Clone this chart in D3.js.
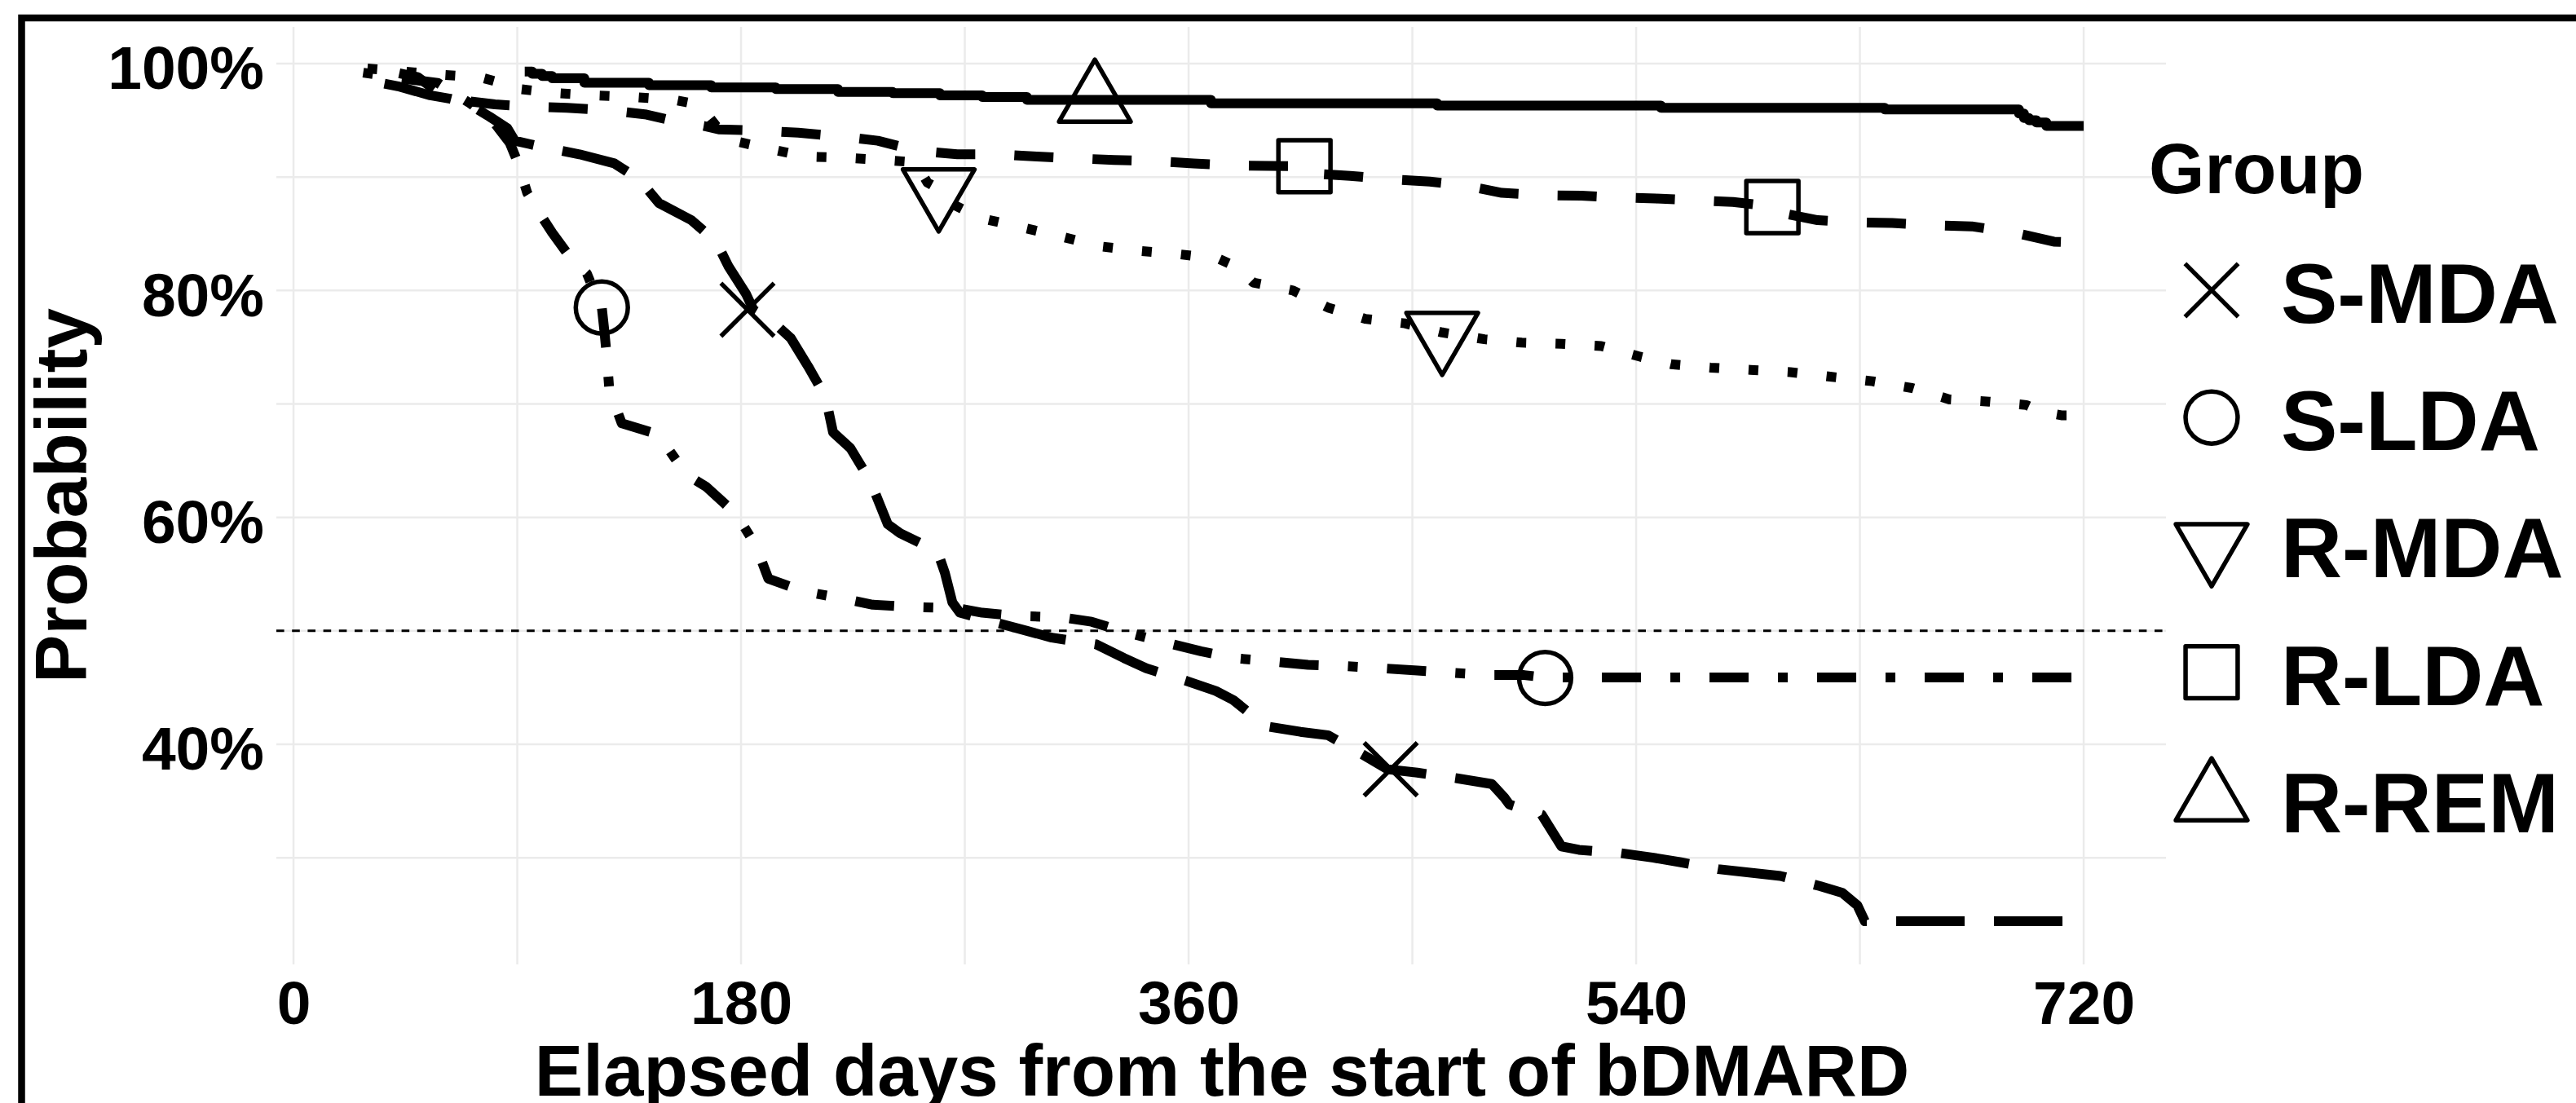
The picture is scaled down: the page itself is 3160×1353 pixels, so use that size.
<!DOCTYPE html>
<html>
<head>
<meta charset="utf-8">
<script src="https://cdn.jsdelivr.net/npm/d3@7"></script>
<style>
  body { margin: 0; background: #fff; }
  svg { display: block; }
  text { font-family: "Liberation Sans", Arial, Helvetica, sans-serif; font-weight: bold; fill: #000; }
</style>
</head>
<body>
<div id="chart"></div>
<script>
// ---- data (days from start, % still on drug) ----
const groups = ["S-MDA", "S-LDA", "R-MDA", "R-LDA", "R-REM"];

const smdaDays = [28, 42, 55, 63, 70, 79, 86, 89, 95, 101, 115, 129, 139, 147, 160, 170, 175, 182, 185, 192, 200, 207, 214, 217, 224, 232, 239, 244, 259, 262, 265, 268, 283, 295, 305, 323, 334, 343, 359, 371, 378, 391, 405, 416, 430, 440, 452, 468, 482, 487, 489, 502, 506, 510, 517, 534, 547, 558, 573, 598, 614, 623, 629, 632, 720];
const smdaProb = [98.6, 98.0, 97.2, 96.9, 96.5, 95.3, 94.3, 93.2, 92.9, 92.6, 92.0, 91.2, 89.8, 87.7, 86.2, 84.3, 82.1, 79.7, 78.3, 77.4, 75.8, 73.3, 70.6, 67.5, 66.1, 63.2, 59.4, 58.6, 57.0, 55.1, 52.5, 51.6, 50.7, 50.0, 49.4, 48.8, 47.6, 46.7, 45.6, 44.7, 43.9, 41.6, 41.1, 40.8, 39.1, 37.8, 37.5, 37.0, 36.5, 35.3, 34.7, 33.8, 32.4, 31.0, 30.7, 30.4, 30.0, 29.6, 29.0, 28.4, 27.5, 26.9, 25.8, 24.4, 24.4];

const sldaDays = [28, 43, 58, 65, 71, 80, 87, 90, 94, 99, 104, 111, 118, 121, 124, 125, 126, 127, 130, 132, 144, 147, 156, 160, 166, 178, 186, 191, 205, 222, 233, 249, 267, 277, 292, 309, 321, 336, 352, 365, 378, 394, 408, 422, 438, 452, 466, 481, 495, 503, 720];
const sldaProb = [99.2, 98.7, 98.3, 97.3, 96.5, 95.0, 93.0, 91.4, 88.6, 86.8, 85.1, 83.0, 81.5, 79.9, 78.5, 76.5, 74.2, 71.3, 69.5, 68.3, 67.5, 67.2, 64.4, 63.5, 62.7, 60.3, 57.5, 54.6, 53.5, 52.8, 52.3, 52.1, 52.0, 51.6, 51.3, 51.2, 50.8, 49.8, 48.9, 48.2, 47.6, 47.3, 47.0, 46.9, 46.7, 46.5, 46.3, 46.1, 46.1, 45.9, 45.9];

const rmdaDays = [28, 44, 60, 75, 85, 89, 105, 120, 137, 153, 160, 165, 170, 175, 191, 206, 221, 237, 250, 255, 260, 266, 276, 292, 308, 324, 340, 356, 372, 380, 386, 402, 416, 431, 447, 462, 479, 494, 510, 526, 541, 554, 570, 586, 602, 618, 635, 651, 666, 682, 697, 703, 711, 720];
const rmdaProb = [99.6, 99.3, 99.0, 98.8, 98.2, 97.8, 97.4, 97.2, 97.05, 96.8, 96.5, 95.9, 94.5, 93.3, 92.5, 91.8, 91.7, 91.5, 91.3, 89.5, 88.9, 87.5, 86.4, 85.6, 84.8, 83.9, 83.5, 83.2, 82.8, 82.0, 80.7, 80.0, 78.5, 77.5, 77.1, 76.3, 75.7, 75.4, 75.3, 75.1, 74.2, 73.5, 73.2, 73.0, 72.8, 72.4, 72.0, 71.4, 70.4, 70.2, 69.9, 69.3, 69.0, 69.0];

const rldaDays = [35, 50, 58, 66, 81, 95, 110, 126, 142, 154, 165, 171, 187, 203, 219, 235, 251, 267, 283, 299, 314, 330, 347, 362, 381, 407, 410, 425, 441, 457, 470, 486, 503, 518, 532, 548, 564, 579, 595, 597, 613, 628, 643, 660, 675, 692, 708, 720];
const rldaProb = [99.5, 98.8, 97.5, 96.8, 96.4, 96.2, 96.1, 95.9, 95.5, 94.9, 94.5, 94.2, 94.1, 93.9, 93.6, 93.2, 92.3, 92.0, 92.0, 91.8, 91.65, 91.5, 91.4, 91.2, 91.0, 90.95, 90.3, 90.1, 89.8, 89.6, 89.3, 88.6, 88.4, 88.35, 88.2, 88.1, 87.95, 87.8, 87.4, 86.9, 86.2, 86.0, 85.95, 85.75, 85.65, 85.1, 84.3, 84.2];

const rremDays = [93, 96, 100, 104, 117, 143, 168, 194, 219, 241, 260, 277, 295, 369, 460, 550, 640, 694, 696, 698, 701, 705, 720];
const rremProb = [99.3, 99.1, 98.9, 98.7, 98.3, 98.1, 97.9, 97.75, 97.5, 97.4, 97.2, 97.05, 96.8, 96.5, 96.3, 96.1, 95.95, 95.6, 95.2, 95.0, 94.8, 94.5, 94.5];

// marker points drawn on each curve
const smdaMarkDays = [182.6, 441.3], smdaMarkProb = [78.3, 37.8];
const sldaMarkDays = [124, 503.4],   sldaMarkProb = [78.5, 45.85];
const rmdaMarkDays = [259.5, 462],   rmdaMarkProb = [88.85, 76.2];
const rldaMarkDays = [406.6, 594.8], rldaMarkProb = [90.95, 87.35];
const rremMarkDays = [322.3],        rremMarkProb = [96.7];

const xTicks = [0, 180, 360, 540, 720];
const xMinor = [90, 270, 450, 630];
const yTicks = [40, 60, 80, 100];
const yMinor = [30, 50, 70, 90];
const refProb = 50;

const xTitle = "Elapsed days from the start of bDMARD";
const yTitle = "Probability";
const legendTitle = "Group";

// ---- layout ----
const W = 3160, H = 1353;
const margin = { top: 33, right: 503, bottom: 170, left: 339 };
const width = W - margin.left - margin.right;
const height = H - margin.top - margin.bottom;

const series = [
  { name: "S-MDA", days: smdaDays, prob: smdaProb, md: smdaMarkDays, mp: smdaMarkProb },
  { name: "S-LDA", days: sldaDays, prob: sldaProb, md: sldaMarkDays, mp: sldaMarkProb },
  { name: "R-MDA", days: rmdaDays, prob: rmdaProb, md: rmdaMarkDays, mp: rmdaMarkProb },
  { name: "R-LDA", days: rldaDays, prob: rldaProb, md: rldaMarkDays, mp: rldaMarkProb },
  { name: "R-REM", days: rremDays, prob: rremProb, md: rremMarkDays, mp: rremMarkProb }
];

// line type (dash in px, phase of the pattern where the line ends) and marker shape
const style = {
  "S-MDA": { dash: [84, 36], endPhase: 110, shape: "cross", curve: d3.curveLinear },
  "S-LDA": { dash: [12, 36, 48, 36], endPhase: 111, shape: "circle", curve: d3.curveLinear },
  "R-MDA": { dash: [12, 36], endPhase: 33, shape: "triDown", curve: d3.curveLinear },
  "R-LDA": { dash: [48, 48], endPhase: 76, shape: "square", curve: d3.curveLinear },
  "R-REM": { dash: null, endPhase: null, shape: "triUp", curve: d3.curveStepAfter }
};

const svg = d3.select("#chart").append("svg")
  .attr("width", W)
  .attr("height", H);

svg.append("rect").attr("width", W).attr("height", H).attr("fill", "#fff");

// outer frame (runs off the right and bottom edge)
svg.append("rect")
  .attr("x", 26.5).attr("y", 22)
  .attr("width", W + 200).attr("height", H + 200)
  .attr("fill", "none").attr("stroke", "#000").attr("stroke-width", 8.5);

const g = svg.append("g").attr("transform", `translate(${margin.left},${margin.top})`);

const x = d3.scaleLinear().domain([-6.9, 753.1]).range([0, width]);
const y = d3.scaleLinear().domain([20.6, 103.23]).range([height, 0]);

// grid
const grid = g.append("g").attr("stroke", "#EBEBEB").attr("stroke-width", 2.5);
grid.selectAll(".vx").data(xTicks.concat(xMinor)).enter().append("line")
  .attr("x1", d => x(d)).attr("x2", d => x(d))
  .attr("y1", 0).attr("y2", height);
grid.selectAll(".hy").data(yTicks.concat(yMinor)).enter().append("line")
  .attr("x1", 0).attr("x2", width)
  .attr("y1", d => y(d)).attr("y2", d => y(d));

// axes (labels only)
const xAxis = g.append("g")
  .attr("transform", `translate(0,${height})`)
  .call(d3.axisBottom(x).tickValues(xTicks).tickSize(0).tickPadding(20));
xAxis.select(".domain").remove();
xAxis.selectAll("text").attr("font-size", 75).attr("font-family", null).style("font-weight", "bold");

const yAxis = g.append("g")
  .call(d3.axisLeft(y).tickValues(yTicks).tickSize(0).tickPadding(15).tickFormat(d => d + "%"));
yAxis.select(".domain").remove();
yAxis.selectAll("text").attr("font-size", 75).attr("font-family", null).attr("dy", "0.41em").style("font-weight", "bold");

// 50% reference line
g.append("line")
  .attr("x1", 0).attr("x2", width)
  .attr("y1", y(refProb)).attr("y2", y(refProb))
  .attr("stroke", "#000").attr("stroke-width", 3)
  .attr("stroke-dasharray", "9.6,9.6");

// curves
series.forEach(s => {
  const st = style[s.name];
  const pts = s.days.map((d, i) => [d, s.prob[i]]);
  const line = d3.line().x(d => x(d[0])).y(d => y(d[1])).curve(st.curve);
  const path = g.append("path")
    .datum(pts)
    .attr("d", line)
    .attr("fill", "none")
    .attr("stroke", "#000")
    .attr("stroke-width", 12)
    .attr("stroke-linecap", "butt")
    .attr("stroke-linejoin", "round");
  if (st.dash) {
    path.attr("stroke-dasharray", st.dash.join(","));
    if (st.endPhase !== null) {
      const period = d3.sum(st.dash);
      const L = path.node().getTotalLength();
      const off = (((st.endPhase - L) % period) + period) % period;
      path.attr("stroke-dashoffset", off);
    }
  }
});

// marker shapes
const R = 32.6;
function shapePath(shape, r) {
  const p = d3.path();
  if (shape === "cross") {
    p.moveTo(-r, -r); p.lineTo(r, r);
    p.moveTo(-r, r); p.lineTo(r, -r);
  } else if (shape === "circle") {
    p.moveTo(r * 0.98, 0);
    p.arc(0, 0, r * 0.98, 0, 2 * Math.PI);
    p.closePath();
  } else if (shape === "square") {
    const h = r * 0.98;
    p.rect(-h, -h, 2 * h, 2 * h);
  } else if (shape === "triUp") {
    p.moveTo(0, -1.555 * r); p.lineTo(1.347 * r, 0.778 * r); p.lineTo(-1.347 * r, 0.778 * r); p.closePath();
  } else {
    p.moveTo(0, 1.555 * r); p.lineTo(1.347 * r, -0.778 * r); p.lineTo(-1.347 * r, -0.778 * r); p.closePath();
  }
  return p.toString();
}

series.forEach(s => {
  const st = style[s.name];
  g.selectAll(null)
    .data(s.md.map((d, i) => [d, s.mp[i]]))
    .enter().append("path")
    .attr("transform", d => `translate(${x(d[0])},${y(d[1])})`)
    .attr("d", shapePath(st.shape, R))
    .attr("fill", "none")
    .attr("stroke", "#000")
    .attr("stroke-width", 5.5)
    .attr("stroke-linejoin", "round");
});

// axis titles
svg.append("text")
  .attr("x", margin.left + width / 2 + 1)
  .attr("y", 1344)
  .attr("text-anchor", "middle")
  .attr("font-size", 89)
  .text(xTitle);

svg.append("text")
  .attr("transform", `translate(106,${margin.top + height / 2}) rotate(-90)`)
  .attr("text-anchor", "middle")
  .attr("font-size", 89)
  .text(yTitle);

// legend
const legend = svg.append("g").attr("transform", "translate(2636,0)");
legend.append("text")
  .attr("x", 0).attr("y", 237)
  .attr("font-size", 88)
  .text(legendTitle);

const items = legend.selectAll(".item").data(groups).enter().append("g")
  .attr("transform", (d, i) => `translate(0,${356 + i * 156.2})`);
items.append("path")
  .attr("transform", "translate(77,0)")
  .attr("d", d => shapePath(style[d].shape, R))
  .attr("fill", "none")
  .attr("stroke", "#000")
  .attr("stroke-width", 5.5)
  .attr("stroke-linejoin", "round");
items.append("text")
  .attr("x", 162).attr("y", 40)
  .attr("font-size", 104)
  .text(d => d);
</script>
</body>
</html>
